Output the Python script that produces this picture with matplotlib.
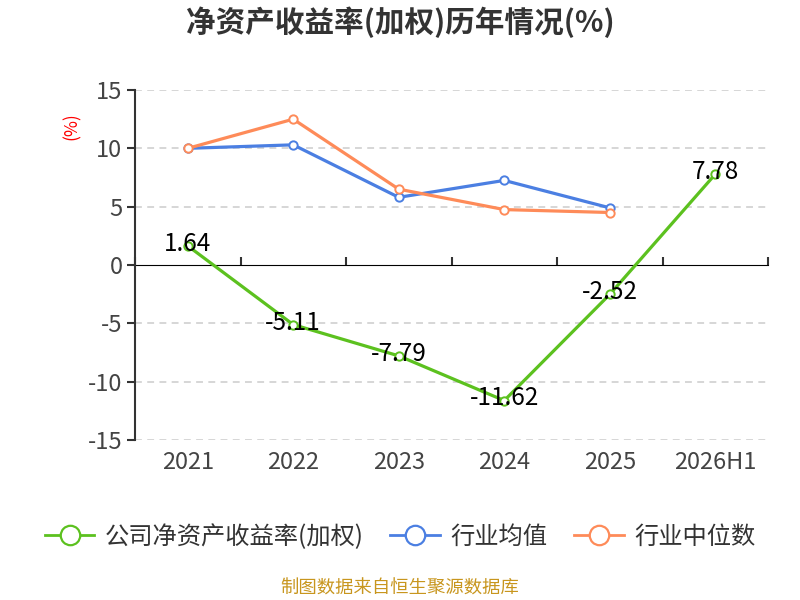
import matplotlib
matplotlib.use("Agg")
import matplotlib.pyplot as plt
from matplotlib.lines import Line2D

plt.rcParams['font.family'] = ['Noto Sans CJK SC', 'DejaVu Sans']

categories = ["2021", "2022", "2023", "2024", "2025", "2026H1"]
company = [1.64, -5.11, -7.79, -11.62, -2.52, 7.78]
industry_avg = [10.0, 10.3, 5.8, 7.25, 4.9]
industry_median = [10.0, 12.5, 6.5, 4.75, 4.5]
y_ticks = [-15, -10, -5, 0, 5, 10, 15]

title = "净资产收益率(加权)历年情况(%)"
series_names = ["公司净资产收益率(加权)", "行业均值", "行业中位数"]
source = "制图数据来自恒生聚源数据库"

green = "#5cc11f"
blue = "#4b7fe2"
orange = "#fe8b59"
axis_col = "#333333"

fig = plt.figure(figsize=(8, 6), dpi=100)
ax = fig.add_axes([135/800, 1-440/600, (768-135)/800, 350/600])

x = list(range(len(categories)))
lw = 2.3
ms = 6
ax.plot(x[:len(industry_avg)], industry_avg, color=blue, lw=lw, marker='o', ms=ms,
        mfc='white', mec=blue, mew=1.4, zorder=3)
ax.plot(x[:len(industry_median)], industry_median, color=orange, lw=lw, marker='o', ms=ms,
        mfc='white', mec=orange, mew=1.4, zorder=3)
ax.plot(x, company, color=green, lw=lw, marker='o', ms=ms,
        mfc='white', mec=green, mew=1.4, zorder=4)
for xi, v in zip(x, company):
    ax.annotate(f"{v:.2f}", (xi, v), xytext=(0, 1.5), textcoords='offset points',
                ha='center', va='center', fontsize=17.5, color='black', zorder=5)

ax.set_xlim(-0.5, len(categories) - 0.5)
ax.set_ylim(-15, 15)
ax.set_yticks(y_ticks)
ax.set_yticklabels([str(t) for t in y_ticks])
for t in y_ticks:
    if t != 0:
        ax.axhline(t, color='#cccccc', lw=1.1, ls=(0, (4.5, 3.5)), zorder=1)

for s in ['top', 'right', 'bottom']:
    ax.spines[s].set_visible(False)
ax.spines['left'].set_color(axis_col)
ax.spines['left'].set_linewidth(1.5)
ax.tick_params(axis='y', colors=axis_col, labelsize=17, length=6, width=1.5,
               labelcolor='#444444', pad=3)

ax.set_xticks(x)
ax.set_xticklabels(categories)
ax.tick_params(axis='x', length=0, labelsize=17, labelcolor='#444444', pad=8)

sec = ax.secondary_xaxis(0.5)
sec.set_xticks([i - 0.5 for i in range(len(categories) + 1)])
sec.set_xticklabels([])
sec.spines['bottom'].set_color(axis_col)
sec.spines['bottom'].set_linewidth(1.5)
sec.tick_params(axis='x', direction='out', length=6, width=1.5, colors=axis_col)

ax.text(-0.1, 0.897, "(%)", transform=ax.transAxes, rotation=90, color='red',
        fontsize=12.5, ha='center', va='center')

fig.text(0.5, 1-22/600, title, ha='center', va='center', fontsize=21.3,
         fontweight='bold', color='#333333')

handles = [Line2D([0], [0], color=c, lw=2, marker='o', ms=14, mfc='white', mec=c, mew=1.6)
           for c in [green, blue, orange]]
fig.legend(handles, series_names, loc='center', bbox_to_anchor=(0.5, 1-537/600),
           ncol=3, frameon=False, fontsize=17.5, handlelength=2.05, columnspacing=1.1,
           handletextpad=0.42, labelcolor='#333333')

fig.text(0.5, 1-589/600, source, ha='center', va='center', fontsize=13.2, color='#c8961e')

fig.savefig("out.png", dpi=100)
